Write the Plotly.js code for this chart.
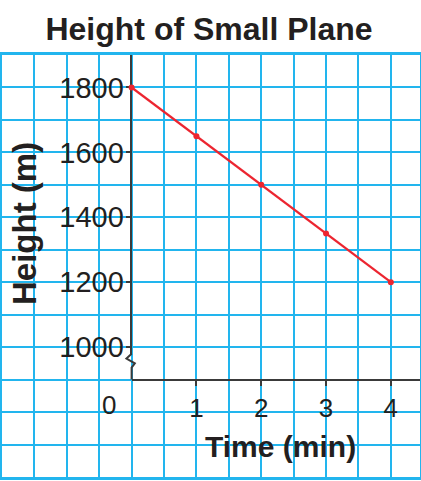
<!DOCTYPE html>
<html>
<head>
<meta charset="utf-8">
<script src="https://cdn.plot.ly/plotly-3.0.1.min.js"></script>
<style>html,body{margin:0;padding:0;background:#fff;}#chart{width:421px;height:481px;}</style>
</head>
<body>
<div id="chart"></div>
<script>
// Data
const timeMin = [0, 1, 2, 3, 4];
const heightM = [1800, 1650, 1500, 1350, 1200];
const xTickVals = [1, 2, 3, 4];
const xTickText = ['1', '2', '3', '4'];
const yTickVals = [1000, 1200, 1400, 1600, 1800];
const yTickText = ['1000', '1200', '1400', '1600', '1800'];
const titleText = 'Height of Small Plane';
const xTitleText = 'Time (min)';
const yTitleText = 'Height (m)';
const originText = '0';

const gridBlue = '#22b5ee';
const axisDark = '#3a3a3a';
const inkColor = '#231f20';
const redLine = '#ec2530';

// Grid (main) axes ranges
const xGridRange = [-2, 4.45];
const yGridRange = [600, 1900];
const xAxisY = 900;      // where the time axis sits
const yBreakTop = 980;   // where the height axis line starts its break

const x0frac = (0 - xGridRange[0]) / (xGridRange[1] - xGridRange[0]);
const yDomFrac = (yBreakTop - yGridRange[0]) / (yGridRange[1] - yGridRange[0]);
const xAxisPos = (xAxisY - yGridRange[0]) / (yGridRange[1] - yGridRange[0]);

const trace = {
  x: timeMin, y: heightM,
  xaxis: 'x2', yaxis: 'y2',
  type: 'scatter', mode: 'lines+markers',
  line: {color: redLine, width: 2.2},
  marker: {color: redLine, size: 6},
  cliponaxis: false,
  hoverinfo: 'skip'
};

// invisible trace on the grid axes so they render
const gridTrace = {
  x: [xGridRange[0]], y: [yGridRange[0]],
  xaxis: 'x', yaxis: 'y', type: 'scatter', mode: 'markers',
  marker: {opacity: 0}, hoverinfo: 'skip', showlegend: false
};

const layout = {
  width: 421, height: 481,
  margin: {l: 2, r: 1, t: 55, b: 4, pad: 0},
  paper_bgcolor: '#ffffff', plot_bgcolor: 'rgba(0,0,0,0)',
  showlegend: false,
  font: {family: 'Liberation Sans, Arial, sans-serif', color: inkColor},
  title: {
    text: titleText,
    font: {family: 'Liberation Sans, Arial, sans-serif', size: 32, color: inkColor, weight: 'bold'},
    x: 0.4965, xref: 'container', xanchor: 'center',
    y: 1 - 29 / 481, yref: 'container', yanchor: 'middle'
  },
  xaxis: {
    range: xGridRange, fixedrange: true,
    showgrid: true, gridcolor: gridBlue, gridwidth: 2,
    tick0: 0, dtick: 0.5,
    showticklabels: false, ticks: '', zeroline: false,
    showline: true, mirror: true, linecolor: gridBlue, linewidth: 3
  },
  yaxis: {
    range: yGridRange, fixedrange: true,
    showgrid: true, gridcolor: gridBlue, gridwidth: 2,
    tick0: 0, dtick: 100,
    showticklabels: false, ticks: '', zeroline: false,
    showline: true, mirror: true, linecolor: gridBlue, linewidth: 3
  },
  xaxis2: {
    domain: [x0frac, 1], range: [0, xGridRange[1]], fixedrange: true,
    anchor: 'free', position: xAxisPos,
    showgrid: false, zeroline: false,
    showline: true, linecolor: axisDark, linewidth: 2, layer: 'below traces',
    tickmode: 'array', tickvals: xTickVals, ticktext: xTickText,
    ticks: 'outside', ticklen: 5, tickwidth: 2, tickcolor: axisDark,
    ticklabelstandoff: 0,
    tickfont: {family: 'Liberation Sans, Arial, sans-serif', size: 26, color: inkColor}
  },
  yaxis2: {
    domain: [yDomFrac, 1], range: [yBreakTop, yGridRange[1]], fixedrange: true,
    anchor: 'x2',
    showgrid: false, zeroline: false,
    showline: true, linecolor: axisDark, linewidth: 2, layer: 'below traces',
    tickmode: 'array', tickvals: yTickVals, ticktext: yTickText,
    ticks: 'outside', ticklen: 4, tickwidth: 2, tickcolor: axisDark,
    ticklabelstandoff: -4,
    tickfont: {family: 'Liberation Sans, Arial, sans-serif', size: 29, color: inkColor}
  },
  shapes: [{
    type: 'path', xref: 'x', yref: 'y', layer: 'above',
    path: 'M0,' + yBreakTop + ' L-0.08,965 L0.05,950 L0,937 L0,' + xAxisY,
    line: {color: axisDark, width: 2}
  }],
  annotations: [
    {text: originText, xref: 'x', yref: 'y', x: -0.35, y: 822, showarrow: false,
     font: {family: 'Liberation Sans, Arial, sans-serif', size: 26, color: inkColor}},
    {text: xTitleText, xref: 'paper', yref: 'paper', x: (280 - 2) / 418, y: (477 - 446) / 422,
     xanchor: 'center', yanchor: 'middle', showarrow: false,
     font: {family: 'Liberation Sans, Arial, sans-serif', size: 30, color: inkColor, weight: 'bold'}},
    {text: yTitleText, xref: 'paper', yref: 'paper', x: (24 - 2) / 418, y: (477 - 224) / 422,
     xanchor: 'center', yanchor: 'middle', textangle: -90, showarrow: false,
     font: {family: 'Liberation Sans, Arial, sans-serif', size: 33, color: inkColor, weight: 'bold'}}
  ]
};

Plotly.newPlot('chart', [gridTrace, trace], layout, {staticPlot: true, displayModeBar: false});
</script>
</body>
</html>
